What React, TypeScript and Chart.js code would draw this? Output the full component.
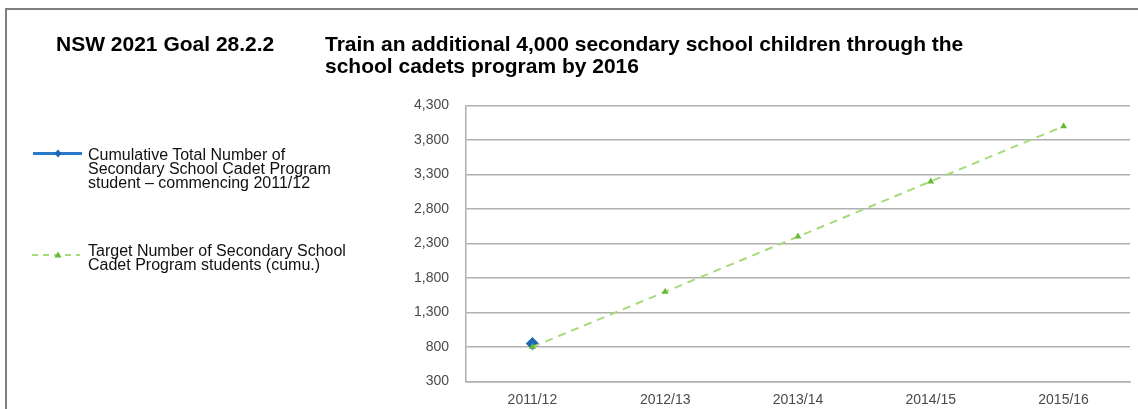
import React, { useEffect, useRef } from "react";
import { Chart, registerables } from "chart.js";

Chart.register(...registerables);

const categories = ["2011/12", "2012/13", "2013/14", "2014/15", "2015/16"];
const actualCumulative: (number | null)[] = [850, null, null, null, null];
const targetCumulative = [800, 1600, 2400, 3200, 4000];
const yMin = 300;
const yMax = 4300;
const yStep = 500;

const titleGoal = "NSW 2021 Goal 28.2.2";
const titleText = "Train an additional 4,000 secondary school children through the school cadets program by 2016";
const legendActual = "Cumulative Total Number of Secondary School Cadet Program student – commencing 2011/12";
const legendTarget = "Target Number of Secondary School Cadet Program students (cumu.)";

const FONT = "'Liberation Sans', Arial, Helvetica, sans-serif";
const BLUE = "#2a7acb";
const BLUE_DARK = "#1f68b5";
const GREEN_LINE = "#a6da7a";
const GREEN_PT = "#66bb36";

export default function App() {
  const canvasRef = useRef<HTMLCanvasElement | null>(null);

  useEffect(() => {
    if (!canvasRef.current) return;
    const chart = new Chart(canvasRef.current, {
      type: "line",
      data: {
        labels: categories,
        datasets: [
          {
            label: legendActual,
            data: actualCumulative,
            borderColor: BLUE,
            backgroundColor: BLUE_DARK,
            borderWidth: 3,
            pointStyle: "rectRot",
            pointRadius: 4.5,
            pointBackgroundColor: BLUE_DARK,
            pointBorderColor: BLUE_DARK,
            order: 1,
          },
          {
            label: legendTarget,
            data: targetCumulative,
            borderColor: GREEN_LINE,
            backgroundColor: GREEN_PT,
            borderWidth: 2,
            borderDash: [8, 6],
            pointStyle: "triangle",
            pointRadius: 4,
            pointBackgroundColor: GREEN_PT,
            pointBorderColor: GREEN_PT,
            pointBorderWidth: 0,
            order: 0,
          },
        ],
      },
      options: {
        animation: false,
        responsive: false,
        locale: "en-US",
        layout: { padding: { left: 380, right: 8, top: 105.5, bottom: 0 } },
        plugins: {
          legend: { display: false },
          tooltip: { enabled: false },
          title: { display: false },
        },
        scales: {
          x: {
            offset: true,
            grid: { display: false, drawTicks: false },
            border: { display: true, color: "#b0b0b0", width: 1.5 },
            ticks: {
              padding: 10,
              color: "#4a4a4a",
              font: { family: FONT, size: 14 },
              maxRotation: 0,
            },
            afterFit: (scale: any) => {
              scale.height = 27.5;
            },
          },
          y: {
            min: yMin,
            max: yMax,
            grid: { color: "#b0b0b0", lineWidth: 1.5, drawTicks: false },
            border: { display: true, color: "#b0b0b0", width: 1.5 },
            ticks: {
              stepSize: yStep,
              padding: 17,
              color: "#4a4a4a",
              font: { family: FONT, size: 14 },
              callback: (v: any) => Number(v).toLocaleString("en-US"),
            },
            afterFit: (scale: any) => {
              scale.width = 86;
            },
          },
        },
      },
    });
    return () => chart.destroy();
  }, []);

  const legendText: React.CSSProperties = {
    position: "absolute",
    left: 88,
    width: 270,
    fontFamily: FONT,
    fontSize: 16,
    lineHeight: "14.2px",
    color: "#111",
  };

  return (
    <div
      style={{
        position: "fixed",
        left: 0,
        top: 0,
        width: 1138,
        height: 409,
        background: "#fff",
        overflow: "hidden",
      }}
    >
      <div
        style={{
          position: "absolute",
          left: 5,
          top: 8,
          width: 1200,
          height: 500,
          borderTop: "2px solid #7f7f7f",
          borderLeft: "2px solid #7f7f7f",
        }}
      />
      <canvas
        ref={canvasRef}
        width={1138}
        height={409}
        style={{ position: "absolute", left: 0, top: 0, width: 1138, height: 409 }}
      />
      <div
        style={{
          position: "absolute",
          left: 56,
          top: 32.5,
          fontFamily: FONT,
          fontWeight: "bold",
          fontSize: 21,
          lineHeight: "22.5px",
          color: "#000",
          whiteSpace: "nowrap",
        }}
      >
        {titleGoal}
      </div>
      <div
        style={{
          position: "absolute",
          left: 325,
          top: 32.5,
          width: 680,
          fontFamily: FONT,
          fontWeight: "bold",
          fontSize: 21,
          lineHeight: "22.5px",
          color: "#000",
        }}
      >
        {titleText}
      </div>

      <svg
        style={{ position: "absolute", left: 0, top: 0 }}
        width={100}
        height={300}
      >
        <line x1={33} y1={153.5} x2={82} y2={153.5} stroke={BLUE} strokeWidth={3} />
        <polygon points="58,149.5 61.5,153.5 58,157.5 54.5,153.5" fill={BLUE_DARK} />
        <line
          x1={32}
          y1={255}
          x2={80}
          y2={255}
          stroke={GREEN_LINE}
          strokeWidth={2}
          strokeDasharray="6 5"
        />
        <polygon points="58,251.5 61.5,257.5 54.5,257.5" fill={GREEN_PT} />
      </svg>

      <div style={{ ...legendText, top: 147.7 }}>{legendActual}</div>
      <div style={{ ...legendText, top: 243.7 }}>{legendTarget}</div>
    </div>
  );
}
